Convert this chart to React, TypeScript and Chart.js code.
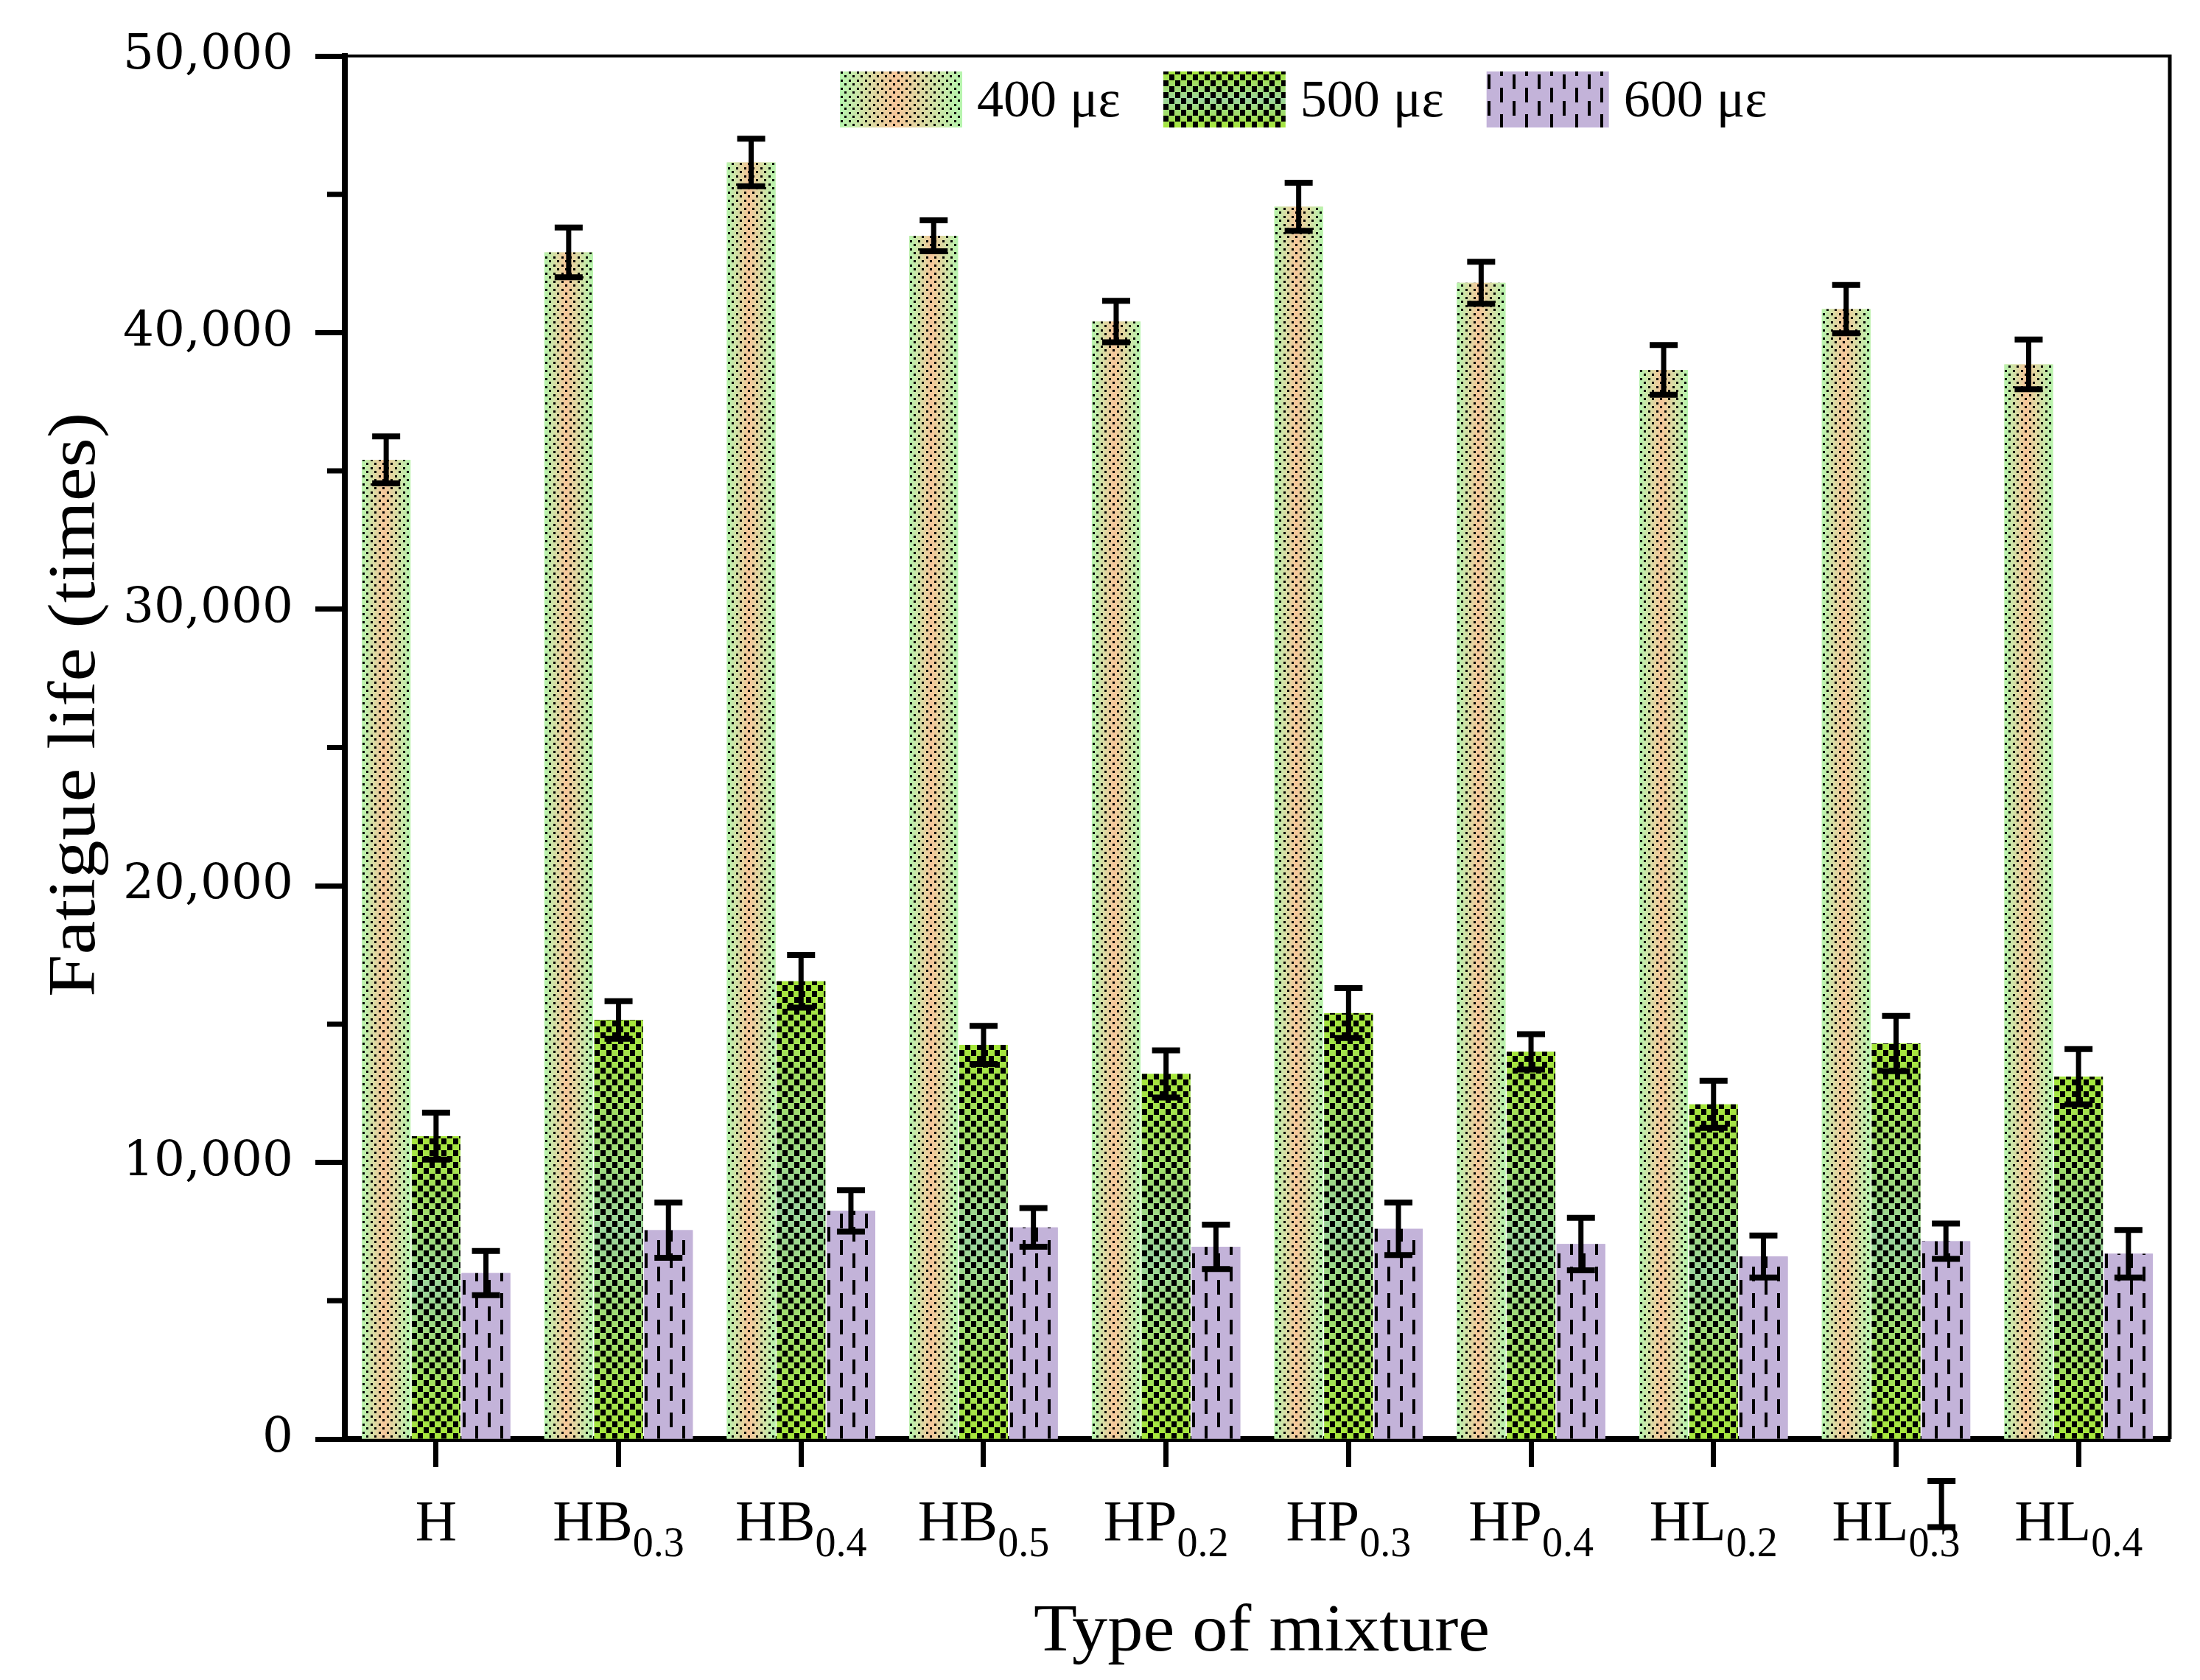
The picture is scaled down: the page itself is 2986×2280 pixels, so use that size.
import { useEffect, useRef } from "react";
import { Chart, registerables } from "chart.js";
import type { Plugin } from "chart.js";

Chart.register(...registerables);

const categories = ["H", "HB0.3", "HB0.4", "HB0.5", "HP0.2", "HP0.3", "HP0.4", "HL0.2", "HL0.3", "HL0.4"];
const seriesLabels = ["400 με", "500 με", "600 με"];
const life400 = [35400, 42900, 46150, 43500, 40400, 44550, 41800, 38650, 40850, 38850];
const err400 = [850, 900, 860, 560, 750, 870, 760, 900, 870, 900];
const life500 = [10950, 15150, 16550, 14250, 13200, 15400, 14000, 12100, 14300, 13100];
const err500 = [850, 680, 950, 690, 850, 900, 640, 850, 1000, 1000];
const life600 = [6000, 7550, 8250, 7650, 6950, 7600, 7050, 6600, 7150, 6700];
const err600 = [800, 1000, 750, 700, 800, 950, 950, 760, 640, 860];
const yLabelTicks = [0, 10000, 20000, 30000, 40000, 50000];
const yMinorTicks = [5000, 15000, 25000, 35000, 45000];
// an error bar that sits below the axis in the source figure
const strayCategory = "HL0.3";
const strayMean = -2350;
const strayErr = 830;

const xTitle = "Type of mixture";
const yTitle = "Fatigue life (times)";

const serif = "'Liberation Serif', 'Times New Roman', serif";

type Box = { left: number; right: number; top: number; bottom: number };

function makeTile(w: number, h: number, draw: (g: CanvasRenderingContext2D) => void) {
  const c = document.createElement("canvas");
  c.width = w;
  c.height = h;
  const g = c.getContext("2d")!;
  g.fillStyle = "#000";
  draw(g);
  return c;
}

const tiles = [
  // dots
  makeTile(11, 11, (g) => {
    g.fillRect(1, 1, 3, 3);
    g.fillRect(6, 6, 3, 3);
  }),
  // coarse squares
  makeTile(16, 16, (g) => {
    g.fillRect(0, 0, 7, 8);
    g.fillRect(8, 8, 7, 8);
  }),
  // staggered vertical dashes
  makeTile(34, 36, (g) => {
    g.fillRect(1, 0, 4, 20);
    g.fillRect(18, 18, 4, 18);
    g.fillRect(18, 0, 4, 2);
  }),
];

function paintFill(ctx: CanvasRenderingContext2D, kind: number, b: Box) {
  const w = b.right - b.left;
  const h = b.bottom - b.top;
  if (w <= 0 || h <= 0) return;
  ctx.save();
  let bg: string | CanvasGradient;
  if (kind === 0) {
    const g = ctx.createLinearGradient(b.left, 0, b.right, 0);
    g.addColorStop(0, "#b6f5ae");
    g.addColorStop(0.45, "#f7c69a");
    g.addColorStop(1, "#b6f5ae");
    bg = g;
  } else if (kind === 1) {
    const g = ctx.createLinearGradient(0, b.top, 0, b.bottom);
    g.addColorStop(0, "#a6e63a");
    g.addColorStop(0.5, "#9bd49b");
    g.addColorStop(1, "#a6e63a");
    bg = g;
  } else {
    bg = "#c3b3d9";
  }
  ctx.fillStyle = bg;
  ctx.fillRect(b.left, b.top, w, h);
  const pat = ctx.createPattern(tiles[kind], "repeat");
  if (pat) {
    pat.setTransform(new DOMMatrix([1, 0, 0, 1, Math.round(b.left), Math.round(b.bottom)]));
    ctx.fillStyle = pat;
    ctx.fillRect(b.left, b.top, w, h);
  }
  ctx.restore();
}

function drawErrorBar(ctx: CanvasRenderingContext2D, x: number, yHi: number, yLo: number) {
  ctx.save();
  ctx.strokeStyle = "#000";
  ctx.lineWidth = 7;
  ctx.beginPath();
  ctx.moveTo(x, yHi);
  ctx.lineTo(x, yLo);
  ctx.stroke();
  ctx.lineWidth = 8;
  ctx.beginPath();
  ctx.moveTo(x - 19, yHi);
  ctx.lineTo(x + 19, yHi);
  ctx.moveTo(x - 19, yLo);
  ctx.lineTo(x + 19, yLo);
  ctx.stroke();
  ctx.restore();
}

function stretchedText(ctx: CanvasRenderingContext2D, text: string, x: number, y: number, sx: number) {
  ctx.save();
  ctx.translate(x, y);
  ctx.scale(sx, 1);
  ctx.fillText(text, 0, 0);
  ctx.restore();
}

const errors = [err400, err500, err600];

const decorPlugin: Plugin<"bar"> = {
  id: "decor",
  afterDatasetsDraw(chart) {
    const ctx = chart.ctx;
    const yScale = chart.scales.y;
    // patterned fills over the library's bar elements
    chart.data.datasets.forEach((_, di) => {
      const meta = chart.getDatasetMeta(di);
      meta.data.forEach((el) => {
        const p = el.getProps(["x", "y", "base", "width"], true) as any;
        paintFill(ctx, di, {
          left: p.x - p.width / 2,
          right: p.x + p.width / 2,
          top: Math.min(p.y, p.base),
          bottom: Math.max(p.y, p.base),
        });
      });
    });
    // error bars
    chart.data.datasets.forEach((ds, di) => {
      const meta = chart.getDatasetMeta(di);
      meta.data.forEach((el, i) => {
        const v = ds.data[i] as number;
        const e = errors[di][i];
        drawErrorBar(ctx, el.x, yScale.getPixelForValue(v + e), yScale.getPixelForValue(v - e));
      });
    });
    const si = categories.indexOf(strayCategory);
    const strayEl = chart.getDatasetMeta(2).data[si];
    if (strayEl) {
      drawErrorBar(ctx, strayEl.x - 6, yScale.getPixelForValue(strayMean + strayErr), yScale.getPixelForValue(strayMean - strayErr));
    }
  },
  afterDraw(chart) {
    const ctx = chart.ctx;
    const { left, right, top, bottom } = chart.chartArea;
    const yScale = chart.scales.y;
    const xScale = chart.scales.x;
    ctx.save();
    // top and right frame
    ctx.strokeStyle = "#000";
    ctx.lineWidth = 4;
    ctx.beginPath();
    ctx.moveTo(left, top);
    ctx.lineTo(right, top);
    ctx.stroke();
    ctx.lineWidth = 5;
    ctx.beginPath();
    ctx.moveTo(right, top - 2);
    ctx.lineTo(right, bottom);
    ctx.stroke();
    // minor y ticks
    ctx.lineWidth = 7;
    ctx.beginPath();
    yMinorTicks.forEach((v) => {
      const py = yScale.getPixelForValue(v);
      ctx.moveTo(left - 24, py);
      ctx.lineTo(left, py);
    });
    ctx.stroke();

    // category labels with subscripts
    ctx.fillStyle = "#000";
    ctx.textBaseline = "alphabetic";
    ctx.textAlign = "left";
    categories.forEach((cat, i) => {
      const m = cat.match(/^([A-Z]+)(.*)$/);
      const main = m ? m[1] : cat;
      const sub = m ? m[2] : "";
      ctx.font = `78px ${serif}`;
      const wMain = ctx.measureText(main).width;
      ctx.font = `56px ${serif}`;
      const wSub = sub ? ctx.measureText(sub).width : 0;
      const cx = xScale.getPixelForValue(i);
      const x0 = cx - (wMain + wSub) / 2;
      const base = bottom + 137;
      ctx.font = `78px ${serif}`;
      ctx.fillText(main, x0, base);
      if (sub) {
        ctx.font = `56px ${serif}`;
        ctx.fillText(sub, x0 + wMain, base + 22);
      }
    });

    // axis titles
    ctx.font = `90px ${serif}`;
    ctx.textAlign = "center";
    stretchedText(ctx, xTitle, (left + right) / 2 + 6, 2240, 1.07);
    ctx.save();
    ctx.translate(128, top + (bottom - top) * 0.469);
    ctx.rotate(-Math.PI / 2);
    stretchedText(ctx, yTitle, 0, 0, 1.15);
    ctx.restore();

    // legend
    ctx.font = `72px ${serif}`;
    ctx.textAlign = "left";
    let lx = left + 672;
    const boxTop = top + 21;
    seriesLabels.forEach((label, i) => {
      paintFill(ctx, i, { left: lx, right: lx + 166, top: boxTop, bottom: boxTop + 76 });
      ctx.fillStyle = "#000";
      const tx = lx + 186;
      ctx.fillText(label, tx, boxTop + 61);
      lx = tx + ctx.measureText(label).width + 58;
    });
    ctx.restore();
  },
};

export default function App() {
  const canvasRef = useRef<HTMLCanvasElement | null>(null);

  useEffect(() => {
    if (!canvasRef.current) return;
    const chart = new Chart(canvasRef.current, {
      type: "bar",
      data: {
        labels: categories,
        datasets: [
          { label: seriesLabels[0], data: life400, backgroundColor: "#d8e0a8", borderWidth: 0 },
          { label: seriesLabels[1], data: life500, backgroundColor: "#a0dc70", borderWidth: 0 },
          { label: seriesLabels[2], data: life600, backgroundColor: "#c3b3d9", borderWidth: 0 },
        ],
      },
      options: {
        animation: false,
        responsive: true,
        maintainAspectRatio: false,
        devicePixelRatio: 1,
        categoryPercentage: 0.82,
        barPercentage: 0.975,
        layout: { padding: { top: 76, right: 41, left: 0, bottom: 0 } },
        plugins: {
          legend: { display: false },
          tooltip: { enabled: false },
        },
        scales: {
          x: {
            grid: {
              display: true,
              drawOnChartArea: false,
              drawTicks: true,
              offset: false,
              tickLength: 38,
              tickWidth: 7,
              tickColor: "#000",
            },
            border: { display: true, color: "#000", width: 8 },
            ticks: { display: false },
            afterFit: (s: any) => {
              s.height = 327;
            },
          },
          y: {
            min: 0,
            max: 50000,
            grid: {
              drawOnChartArea: false,
              drawTicks: true,
              tickLength: 40,
              tickWidth: 7,
              tickColor: (c: any) => (yLabelTicks.includes(c.tick?.value) ? "#000" : "rgba(0,0,0,0)"),
            },
            border: { display: true, color: "#000", width: 8 },
            ticks: {
              stepSize: 5000,
              padding: 30,
              color: "#000",
              font: { family: "'DejaVu Serif', serif", size: 66 },
              callback: (v: any) => (yLabelTicks.includes(Number(v)) ? Number(v).toLocaleString("en-US") : ""),
            },
            afterFit: (s: any) => {
              s.width = 468;
            },
          },
        },
      },
      plugins: [decorPlugin],
    });
    return () => chart.destroy();
  }, []);

  return (
    <div style={{ position: "absolute", left: 0, top: 0, width: 2986, height: 2280, background: "#fff" }}>
      <canvas ref={canvasRef} />
    </div>
  );
}
